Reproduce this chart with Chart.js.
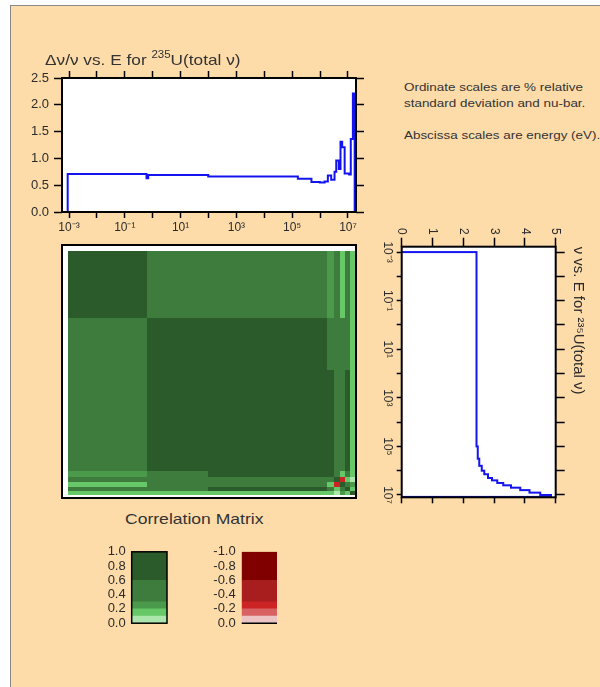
<!DOCTYPE html>
<html>
<head>
<meta charset="utf-8">
<script src="https://cdn.jsdelivr.net/npm/chart.js@4.4.1/dist/chart.umd.min.js"></script>
<style>
  html, body { margin: 0; padding: 0; background: #fff; overflow: hidden; }
  #page { position: absolute; left: 10px; top: 5px; width: 640px; height: 720px; background: #fddcaa; border: 1px solid #888; }
  canvas { position: absolute; }
  .note { position: absolute; font-family: "Liberation Sans", Arial, sans-serif; color: #333; white-space: nowrap; transform-origin: 0 0; }
  .note sup { font-size: 10px; position: relative; top: -1px; }
</style>
</head>
<body>
<div id="page"></div>

<canvas id="dnu-plot" width="380" height="235" style="left:0px;top:0px"></canvas>
<canvas id="matrix-plot" width="310" height="265" style="left:55px;top:240px"></canvas>
<canvas id="nu-plot" width="285" height="217" style="left:378px;top:225px;transform-origin:0 0;transform:translate(217px,0) rotate(90deg)"></canvas>
<canvas id="green-key" width="80" height="99" style="left:90px;top:538px"></canvas>
<canvas id="red-key" width="80" height="99" style="left:200px;top:538px"></canvas>

<div class="note" style="left:45px;top:47px;font-size:15px;line-height:18px;transform:scaleX(1.15)">&Delta;&nu;/&nu; vs. E for <sup>235</sup>U(total &nu;)</div>
<div class="note" style="left:404px;top:81px;font-size:11px;line-height:12px;transform:scaleX(1.22)">Ordinate scales are % relative</div>
<div class="note" style="left:404px;top:97px;font-size:11px;line-height:12px;transform:scaleX(1.22)">standard deviation and nu-bar.</div>
<div class="note" style="left:404px;top:129px;font-size:11px;line-height:12px;transform:scaleX(1.22)">Abscissa scales are energy (eV).</div>
<div class="note" style="left:125px;top:511px;font-size:15px;line-height:16px;transform:scaleX(1.17)">Correlation Matrix</div>

<script>
// Decade ticks on every energy axis (eV), only odd powers get a label
const DECADES = [1e-3, 1e-2, 1e-1, 1e0, 1e1, 1e2, 1e3, 1e4, 1e5, 1e6, 1e7];
const DECADE_LABELS = ["10⁻³", "", "10⁻¹", "", "10¹", "", "10³", "", "10⁵", "", "10⁷"];

// Δν/ν (% relative std. deviation): bin edges in eV, one value per bin
const DNU_EDGES = [8.95e-4, 0.6, 0.69, 98, 1.6e5, 4.9e5, 9.8e5, 1.45e6, 1.9e6, 2.5e6,
                   3.3e6, 3.8e6, 4.7e6, 5.4e6, 6.2e6, 7.6e6, 1.1e7, 1.26e7, 1.5e7, 1.74e7];
const DNU_VALUES = [0.71, 0.63, 0.69, 0.66, 0.62, 0.56, 0.55, 0.57, 0.68, 0.60,
                    0.75, 0.96, 0.80, 1.31, 1.21, 0.72, 0.70, 1.36, 2.21];

// nu-bar: bin edges in eV, one value per bin
const NU_EDGES = [1e-3, 1e5, 3.2e5, 6.3e5, 1e6, 1.4e6, 2e6, 2.5e6, 3.2e6, 4e6,
                  5e6, 6.3e6, 8e6, 1e7, 1.2e7];
const NU_VALUES = [2.43, 2.47, 2.52, 2.6, 2.68, 2.8, 2.93, 3.1, 3.3, 3.55,
                   3.85, 4.15, 4.5, 4.85];

// Correlation matrix: group edges in eV and group-by-group correlations
const COR_EDGES = [8.9e-4, 0.63, 100, 1.9e5, 1.7e6, 3.2e6, 5e6, 8e6, 1.18e7, 1.78e7];
const COR_VALUES = [
  [0.90, 0.50, 0.50, 0.50, 0.25, 0.45, 0.15, 0.45, 0.15],
  [0.50, 0.90, 0.90, 0.90, 0.50, 0.50, 0.50, 0.50, 0.15],
  [0.50, 0.90, 0.90, 0.90, 0.70, 0.50, 0.50, 0.70, 0.15],
  [0.50, 0.90, 0.90, 0.90, 0.70, 0.50, 0.50, 0.70, 0.15],
  [0.25, 0.50, 0.70, 0.70, 0.90, 0.45, 0.15, 0.50, 0.20],
  [0.45, 0.50, 0.50, 0.50, 0.45, 0.90, -0.25, 0.20, 0.10],
  [0.15, 0.50, 0.50, 0.50, 0.15, -0.25, 0.90, 0.45, 0.25],
  [0.45, 0.50, 0.70, 0.70, 0.50, 0.20, 0.45, 0.90, 0.15],
  [0.15, 0.15, 0.15, 0.15, 0.20, 0.10, 0.25, 0.15, 0.90]
];

// Colour key bands (size of each band, from 0 outwards)
const BAND_SIZES = [0.1, 0.1, 0.1, 0.3, 0.4];

// Styles
const FONT = '"Liberation Sans", Arial, Helvetica, sans-serif';
const TEXT = "#2b2b2b";
const LINE_BLUE = "#1414f0";
const GREENS = ["#ade6ad", "#66c866", "#4b9a4b", "#3e7c3e", "#2b5a2b"];
const REDS = ["#ecc4c4", "#d86262", "#cc2424", "#a81e1e", "#800000"];

Chart.defaults.font.family = FONT;

// Turn bin edges + values into the outline of a histogram, starting and ending on zero
function histogramPoints(edges, values) {
  let pts = [{ x: edges[0], y: 0 }];
  for (let i = 0; i < values.length; i++) {
    pts.push({ x: edges[i], y: values[i] });
    pts.push({ x: edges[i + 1], y: values[i] });
  }
  pts.push({ x: edges[edges.length - 1], y: 0 });
  return pts;
}

// Pick the key colour for a correlation value
function corColor(v) {
  let a = Math.abs(v);
  let top = 0;
  for (let i = 0; i < BAND_SIZES.length; i++) {
    top += BAND_SIZES[i];
    if (a <= top + 1e-9) return v < 0 ? REDS[i] : GREENS[i];
  }
  return v < 0 ? REDS[REDS.length - 1] : GREENS[GREENS.length - 1];
}

// White plot area
const plotBackground = {
  id: "plotBackground",
  beforeDraw(chart) {
    const a = chart.chartArea;
    chart.ctx.save();
    chart.ctx.fillStyle = "#fff";
    chart.ctx.fillRect(a.left, a.top, a.right - a.left, a.bottom - a.top);
    chart.ctx.restore();
  }
};

// Black frame round the plot area (or just its bottom edge)
const plotFrame = {
  id: "plotFrame",
  afterDraw(chart, args, opts) {
    const a = chart.chartArea;
    const ctx = chart.ctx;
    ctx.save();
    ctx.strokeStyle = "#000";
    ctx.lineWidth = opts.width || 2;
    if (opts.bottomOnly) {
      ctx.beginPath();
      ctx.moveTo(a.left, a.bottom);
      ctx.lineTo(a.right, a.bottom);
      ctx.stroke();
    } else {
      ctx.strokeRect(a.left, a.top, a.right - a.left, a.bottom - a.top);
    }
    ctx.restore();
  }
};

// Correlation cells, placed through the chart's log scales
const matrixCells = {
  id: "matrixCells",
  beforeDatasetsDraw(chart) {
    const xs = chart.scales.x, ys = chart.scales.y, ctx = chart.ctx;
    ctx.save();
    for (let i = 0; i < COR_VALUES.length; i++) {
      const y0 = Math.round(ys.getPixelForValue(COR_EDGES[i]));
      const y1 = Math.round(ys.getPixelForValue(COR_EDGES[i + 1]));
      for (let j = 0; j < COR_VALUES[i].length; j++) {
        const x0 = Math.round(xs.getPixelForValue(COR_EDGES[j]));
        const x1 = Math.round(xs.getPixelForValue(COR_EDGES[j + 1]));
        ctx.fillStyle = corColor(COR_VALUES[i][j]);
        ctx.fillRect(x0, y0, x1 - x0, y1 - y0);
      }
    }
    ctx.restore();
  }
};

// Energy axis (log, a tick at every decade)
function energyAxis(position, labelled, size, tickLen, min, max) {
  return {
    type: "logarithmic", axis: "x", position: position, min: min, max: max,
    afterBuildTicks: (scale) => { scale.ticks = DECADES.map((v) => ({ value: v })); },
    afterFit: (scale) => { scale.height = size; },
    grid: { drawOnChartArea: false, tickLength: tickLen, tickColor: "#000", tickWidth: 1.5 },
    border: { display: false },
    ticks: {
      display: labelled, autoSkip: false, maxRotation: 0, padding: 2,
      color: TEXT, font: { size: 12 },
      callback: (v, i) => DECADE_LABELS[i]
    }
  };
}

// Ordinate axis (linear)
function valueAxis(position, labelled, size, tickLen, max, step, digits, pad, fontSize) {
  return {
    type: "linear", axis: "y", position: position, min: 0, max: max,
    afterFit: (scale) => { scale.width = size; },
    grid: { drawOnChartArea: false, tickLength: tickLen, tickColor: "#000", tickWidth: 1.5 },
    border: { display: false },
    ticks: {
      display: labelled, stepSize: step, padding: pad, autoSkip: false,
      color: TEXT, font: { size: fontSize },
      callback: (v) => v.toFixed(digits)
    }
  };
}

const baseOptions = {
  responsive: false,
  animation: false,
  devicePixelRatio: 1,
  events: []
};

// Δν/ν vs E (its title is the text block above the canvas)
new Chart(document.getElementById("dnu-plot"), {
  type: "line",
  data: {
    datasets: [{
      data: histogramPoints(DNU_EDGES, DNU_VALUES),
      borderColor: LINE_BLUE, borderWidth: 2, pointRadius: 0, tension: 0
    }]
  },
  options: Object.assign({}, baseOptions, {
    layout: { padding: { left: 0, top: 70, right: 0, bottom: 0 } },
    plugins: { legend: { display: false }, tooltip: { enabled: false } },
    scales: {
      x: energyAxis("bottom", true, 23, 6, 5.6e-4, 1.94e7),
      xTop: energyAxis("top", false, 8, 7, 5.6e-4, 1.94e7),
      y: valueAxis("left", true, 62, 8, 2.5, 0.5, 1, 5, 13),
      yRight: valueAxis("right", false, 24, 8, 2.5, 0.5, 1, 5, 13)
    }
  }),
  plugins: [plotBackground, plotFrame]
});

// nu-bar vs E, drawn upright and turned a quarter turn by the canvas style
new Chart(document.getElementById("nu-plot"), {
  type: "line",
  data: {
    datasets: [{
      data: histogramPoints(NU_EDGES, NU_VALUES),
      borderColor: LINE_BLUE, borderWidth: 2, pointRadius: 0, tension: 0
    }]
  },
  options: Object.assign({}, baseOptions, {
    layout: { padding: 0 },
    plugins: {
      legend: { display: false },
      tooltip: { enabled: false },
      title: {
        display: true, fullSize: false, text: "ν vs. E for ²³⁵U(total ν)", align: "start",
        color: TEXT, font: { size: 15, weight: "normal" }, padding: { top: 8, bottom: 4 }
      }
    },
    scales: {
      x: energyAxis("bottom", true, 23.7, 5, 6.22e-4, 1.245e7),
      xTop: energyAxis("top", false, 9.3, 9, 6.22e-4, 1.245e7),
      y: valueAxis("left", true, 21.7, 9, 5, 1, 0, 3, 12),
      yRight: valueAxis("right", false, 12.7, 6, 5, 1, 0, 3, 12)
    }
  }),
  plugins: [plotBackground, plotFrame]
});

// Correlation matrix on the same energy grid
new Chart(document.getElementById("matrix-plot"), {
  type: "scatter",
  data: { datasets: [{ data: [] }] },
  options: Object.assign({}, baseOptions, {
    layout: { padding: { left: 7, top: 5, right: 9, bottom: 7 } },
    plugins: { legend: { display: false }, tooltip: { enabled: false } },
    scales: {
      x: { type: "logarithmic", display: false, min: 5.6e-4, max: 1.94e7 },
      y: { type: "logarithmic", display: false, reverse: true, min: 5.13e-4, max: 2.38e7 }
    }
  }),
  plugins: [plotBackground, matrixCells, plotFrame]
});

// Colour keys as stacked bars
function keyChart(id, colors, sign, frameOpts) {
  return new Chart(document.getElementById(id), {
    type: "bar",
    data: {
      labels: [""],
      datasets: BAND_SIZES.map((v, i) => ({
        data: [sign * v], backgroundColor: colors[i], borderWidth: 0,
        barPercentage: 1, categoryPercentage: 1
      }))
    },
    options: Object.assign({}, baseOptions, {
      layout: { padding: { left: 0, top: 9.7, right: 3, bottom: 8 } },
      plugins: { legend: { display: false }, tooltip: { enabled: false }, plotFrame: frameOpts },
      scales: {
        x: { stacked: true, display: false },
        y: {
          stacked: true, min: sign > 0 ? 0 : -1, max: sign > 0 ? 1 : 0, reverse: sign < 0,
          afterFit: (scale) => { scale.width = 41.7; },
          grid: { display: false, drawTicks: false },
          border: { display: false },
          ticks: {
            stepSize: 0.2, padding: 6, autoSkip: false, color: TEXT, font: { size: 13 },
            callback: (v) => (Math.abs(v) < 1e-9 ? 0 : v).toFixed(1)
          }
        }
      }
    }),
    plugins: [plotFrame]
  });
}

keyChart("green-key", GREENS, 1, { width: 1.5 });
keyChart("red-key", REDS, -1, { width: 1.5, bottomOnly: true });
</script>
</body>
</html>
